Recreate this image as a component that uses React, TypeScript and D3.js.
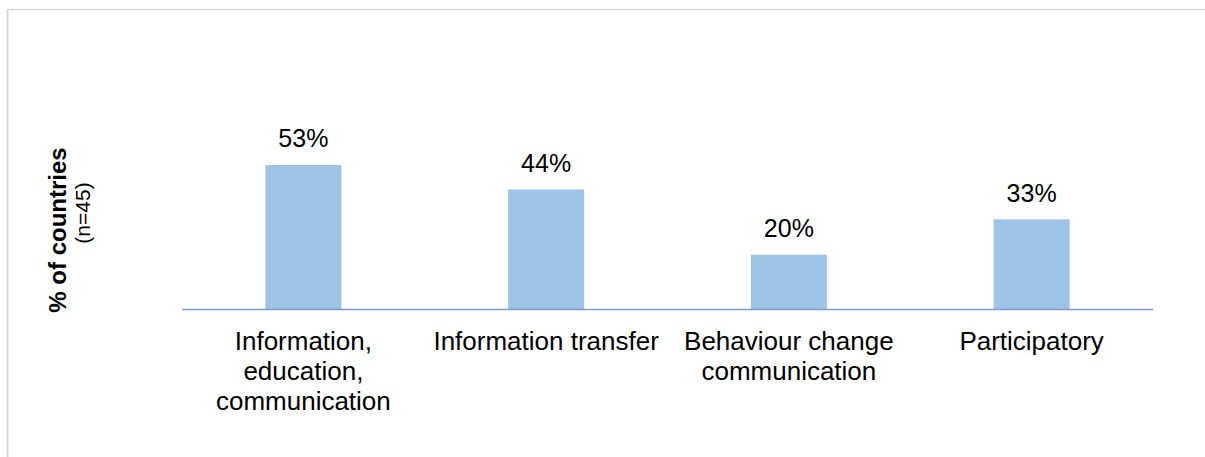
import React from "react";
import * as d3 from "d3";

const categories: string[][] = [
  ["Information,", "education,", "communication"],
  ["Information transfer"],
  ["Behaviour change", "communication"],
  ["Participatory"],
];
const values: number[] = [53, 44, 20, 33];
const valueLabels: string[] = ["53%", "44%", "20%", "33%"];
const yTitle = "% of countries";
const ySubtitle = "(n=45)";

export default function App() {
  const W = 1205;
  const H = 457;
  const left = 182;
  const right = 1153;
  const baseY = 309;
  const keys = categories.map((_, i) => String(i));
  const x = d3.scaleBand<string>().domain(keys).range([left, right]).paddingInner(0.687).paddingOuter(0.3435);
  const y = d3.scaleLinear().domain([0, 60]).range([baseY, baseY - 60 * 2.717]);
  const font = "Liberation Sans, Arial, sans-serif";
  return (
    <svg width={W} height={H} style={{ position: "absolute", left: 0, top: 0 }} fontFamily={font}>
      <rect x={0} y={0} width={W} height={H} fill="#ffffff" />
      <line x1={7.5} y1={9} x2={7.5} y2={H} stroke="#d9d9d9" strokeWidth={2} />
      <line x1={7} y1={9.5} x2={1205} y2={9.5} stroke="#d9d9d9" strokeWidth={1.5} />
      {values.map((v, i) => {
        const bx = x(String(i))!;
        const bw = x.bandwidth();
        return (
          <g key={i}>
            <rect x={bx} y={y(v)} width={bw} height={baseY - y(v)} fill="#9dc3e6" />
            <text x={bx + bw / 2} y={y(v) - 17.5} textAnchor="middle" fontSize={25} fill="#000">
              {valueLabels[i]}
            </text>
          </g>
        );
      })}
      <line x1={left} y1={baseY + 0.5} x2={right} y2={baseY + 0.5} stroke="#7f9ccb" strokeWidth={1.5} />
      {categories.map((lines, i) => {
        const cx = x(String(i))! + x.bandwidth() / 2;
        return (
          <text key={i} textAnchor="middle" fontSize={26} fill="#000">
            {lines.map((l, j) => (
              <tspan key={j} x={cx} y={350 + j * 30}>
                {l}
              </tspan>
            ))}
          </text>
        );
      })}
      <text transform={`translate(66,230) rotate(-90)`} textAnchor="middle" fontSize={24} fontWeight="bold" fill="#000">
        {yTitle}
      </text>
      <text transform={`translate(90,213) rotate(-90)`} textAnchor="middle" fontSize={21} fill="#000">
        {ySubtitle}
      </text>
    </svg>
  );
}
